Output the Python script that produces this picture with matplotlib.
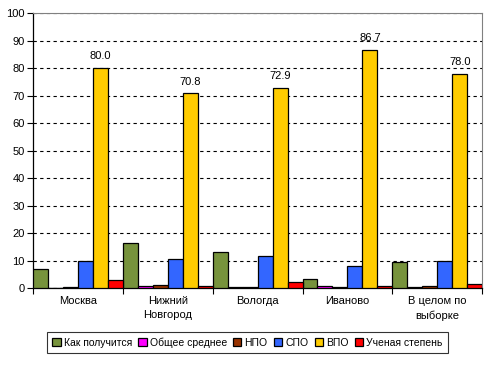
import numpy as np
import matplotlib
matplotlib.use('Agg')
import matplotlib.pyplot as plt

plt.rcParams['font.family'] = ['Liberation Sans', 'DejaVu Sans']

# данные
CITIES = ['Москва', 'Нижний\nНовгород', 'Вологда', 'Иваново', 'В целом по\nвыборке']
SERIES = ['Как получится', 'Общее среднее', 'НПО', 'СПО', 'ВПО', 'Ученая степень']
COLORS = ['#77933c', '#ff00ff', '#993300', '#3366ff', '#ffcc00', '#ff0000']

kak_poluchitsya = [7.0, 16.3, 13.0, 3.3, 9.6]
obshee_srednee = [0.0, 0.7, 0.3, 0.7, 0.3]
npo = [0.3, 1.2, 0.3, 0.3, 0.7]
spo = [10.0, 10.7, 11.5, 8.1, 10.0]
vpo = [80.0, 70.8, 72.9, 86.7, 78.0]
uchenaya = [3.0, 0.7, 2.2, 0.7, 1.5]

values = [kak_poluchitsya, obshee_srednee, npo, spo, vpo, uchenaya]

fig = plt.figure(figsize=(4.93, 3.65), dpi=100)
ax = fig.add_axes([0.067, 0.211, 0.911, 0.753])

n = len(SERIES)
w = 1.0 / n
x = np.arange(len(CITIES))
for i, (vals, color, name) in enumerate(zip(values, COLORS, SERIES)):
    bars = ax.bar(x + i * w, vals, width=w, align='edge', color=color,
                  edgecolor='black', linewidth=0.9, label=name, zorder=3)
    if name == 'ВПО':
        for b, v in zip(bars, vals):
            ax.text(b.get_x() + b.get_width() / 2, v + 2.5, f'{v:.1f}',
                    ha='center', va='bottom', fontsize=8)

ax.set_xlim(0, len(CITIES))
ax.set_ylim(0, 100)
ax.set_yticks(range(0, 101, 10))
ax.tick_params(axis='y', labelsize=8, length=4, direction='out', pad=2)
ax.set_xticks(np.arange(len(CITIES) + 1))
ax.set_xticklabels([])
ax.set_xticks(x + 0.5, minor=True)
ax.set_xticklabels(CITIES, minor=True, fontsize=8, linespacing=1.5)
ax.tick_params(axis='x', which='major', length=4, direction='out')
ax.tick_params(axis='x', which='minor', length=0, pad=6)
ax.yaxis.grid(True, linestyle=(0, (3, 3)), color='black', linewidth=0.8, zorder=0)

ax.spines['top'].set_color('#808080')
ax.spines['right'].set_color('#808080')
ax.spines['left'].set_linewidth(0.9)
ax.spines['bottom'].set_linewidth(0.9)

leg = fig.legend(loc='lower center', bbox_to_anchor=(0.502, 0.018), ncol=6,
                 fontsize=7.5, frameon=True, fancybox=False, edgecolor='black',
                 handlelength=0.8, handleheight=0.8, handletextpad=0.3,
                 columnspacing=0.6, borderpad=0.5)
leg.get_frame().set_linewidth(0.8)

plt.savefig('out.png', dpi=100)
plt.close()
